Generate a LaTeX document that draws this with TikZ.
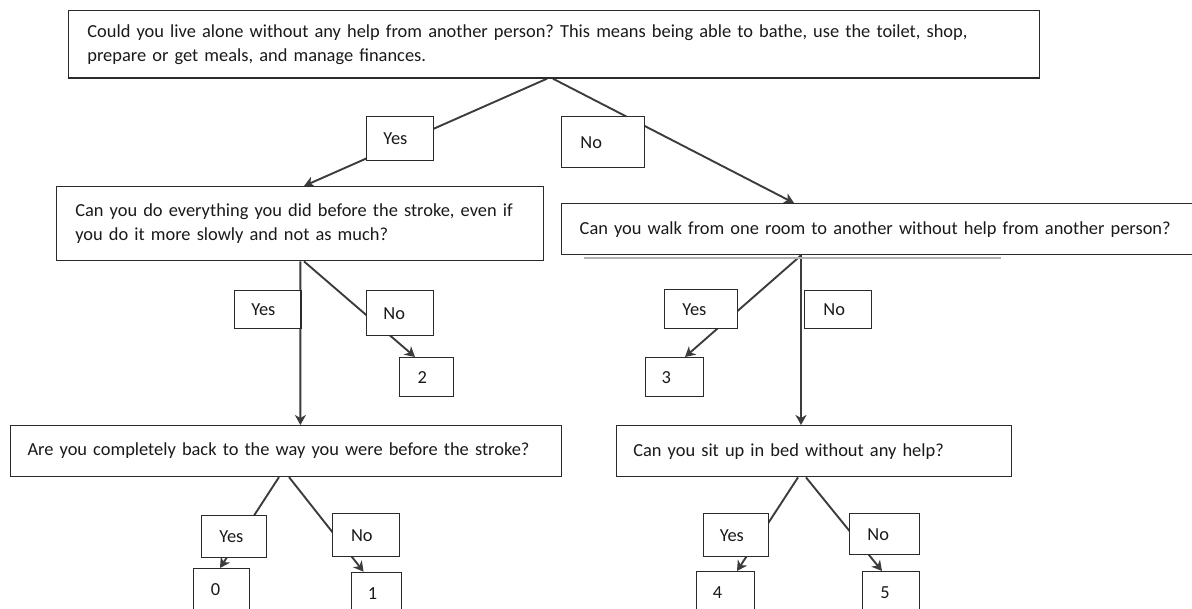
\documentclass[tikz,border=0pt]{standalone}
\usepackage{fontspec}
\setmainfont{Carlito}
\usetikzlibrary{arrows.meta}
\pgfdeclarelayer{background}
\pgfsetlayers{background,main}
\definecolor{boxline}{HTML}{2B2B2B}
\definecolor{conline}{HTML}{3C3C3C}
\definecolor{txtcol}{HTML}{1A1A1A}
\frenchspacing
\hyphenpenalty=10000
\exhyphenpenalty=10000
\begin{document}
\begin{tikzpicture}[x=1pt,y=-1pt,
  qbox/.style={draw=boxline, line width=1.4pt, fill=white, anchor=north west,
    inner ysep=0pt, align=left, text=txtcol,
    font=\fontsize{18.4}{24}\selectfont},
  conn/.style={draw=conline, line width=1.9pt,
    -{Stealth[length=10pt,width=11pt,inset=3pt]}}]
\useasboundingbox (0,0) rectangle (1192,609);
% question boxes
\node[qbox, inner xsep=19pt, text width=933.3pt, minimum height=67.3pt] (top) at (67.7,10)
  {Could you live alone without any help from another person? This means being able to bathe, use the toilet, shop,\\prepare or get meals, and manage finances.};
\node[qbox, inner xsep=18.6pt, text width=449.8pt, minimum height=74pt] (box2) at (56,186)
  {Can you do everything you did before the stroke, even if\\you do it more slowly and not as much?};
\node[qbox, inner xsep=18pt, text width=604pt, minimum height=51pt] (box3) at (561,203)
  {Can you walk from one room to another without help from another person?};
\node[qbox, inner xsep=17.2pt, text width=517pt, minimum height=50.7pt] (box4) at (9.6,425)
  {Are you completely back to the way you were before the stroke?};
\node[qbox, inner xsep=17pt, text width=361.4pt, minimum height=51pt] (box5) at (615.6,425)
  {Can you sit up in bed without any help?};
% answer boxes
\node[qbox, inner xsep=16.7pt, text width=33.6pt, minimum height=44pt] (yes1) at (366,116) {Yes};
\node[qbox, inner xsep=18.7pt, text width=45.6pt, minimum height=51pt] (no1) at (561,116) {No};
\node[qbox, inner xsep=16.7pt, text width=33pt, minimum height=38pt] (yes2) at (234,290) {Yes};
\node[qbox, inner xsep=17.2pt, text width=32.6pt, minimum height=45pt] (no2) at (365.5,290) {No};
\node[qbox, inner xsep=17.7pt, text width=37.1pt, minimum height=39pt] (yes3) at (664,289) {Yes};
\node[qbox, inner xsep=18.7pt, text width=29.6pt, minimum height=38pt] (no3) at (804,290) {No};
\node[qbox, inner xsep=17.7pt, text width=29.6pt, minimum height=41.7pt] (yes4) at (201,515) {Yes};
\node[qbox, inner xsep=18.4pt, text width=30.2pt, minimum height=43pt] (no4) at (332,513) {No};
\node[qbox, inner xsep=16.2pt, text width=32.6pt, minimum height=43pt] (yes5) at (703,513) {Yes};
\node[qbox, inner xsep=17.7pt, text width=34.6pt, minimum height=41pt] (no5) at (849,513) {No};
% result boxes
\node[qbox, inner xsep=17.8pt, text width=18.1pt, minimum height=39pt] (two) at (399,357) {2};
\node[qbox, inner xsep=16pt, text width=26pt, minimum height=39pt] (three) at (645,357) {3};
\node[qbox, inner xsep=17.6pt, text width=21.3pt, minimum height=42pt] (zero) at (192.5,568) {0};
\node[qbox, inner xsep=16.1pt, text width=17.5pt, minimum height=42pt] (one) at (351,571.7) {1};
\node[qbox, inner xsep=16.1pt, text width=25.3pt, minimum height=42pt] (four) at (696,571) {4};
\node[qbox, inner xsep=17.6pt, text width=21.8pt, minimum height=42pt] (five) at (862,571) {5};
% connectors (behind the boxes)
\begin{pgfonlayer}{background}
\draw[conn] ([xshift=479.3pt]top.south west) -- ([xshift=248pt]box2.north west);
\draw[conn] ([xshift=485.3pt]top.south west) -- ([xshift=233pt]box3.north west);
\draw[conn] ([xshift=244.4pt]box2.south west) -- ([xshift=290.8pt]box4.north west);
\draw[conn] ([xshift=248pt]box2.south west) -- ([xshift=16pt]two.north west);
\draw[conn] ([xshift=240pt]box3.south west) -- ([xshift=40pt]three.north west);
\draw[conn] ([xshift=240pt]box3.south west) -- ([xshift=185.4pt]box5.north west);
\draw[conn] ([xshift=269.4pt]box4.south west) -- ([xshift=27.5pt]zero.north west);
\draw[conn] ([xshift=279.4pt]box4.south west) -- ([xshift=12.6pt]one.north west);
\draw[conn] ([xshift=182.4pt]box5.south west) -- ([xshift=41pt]four.north west);
\draw[conn] ([xshift=190.4pt]box5.south west) -- ([xshift=20pt]five.north west);
\draw[black!30, line width=1.5pt] ([xshift=23pt,yshift=-2.5pt]box3.south west) -- ([xshift=440pt,yshift=-2.5pt]box3.south west);
\end{pgfonlayer}
\end{tikzpicture}
\end{document}
